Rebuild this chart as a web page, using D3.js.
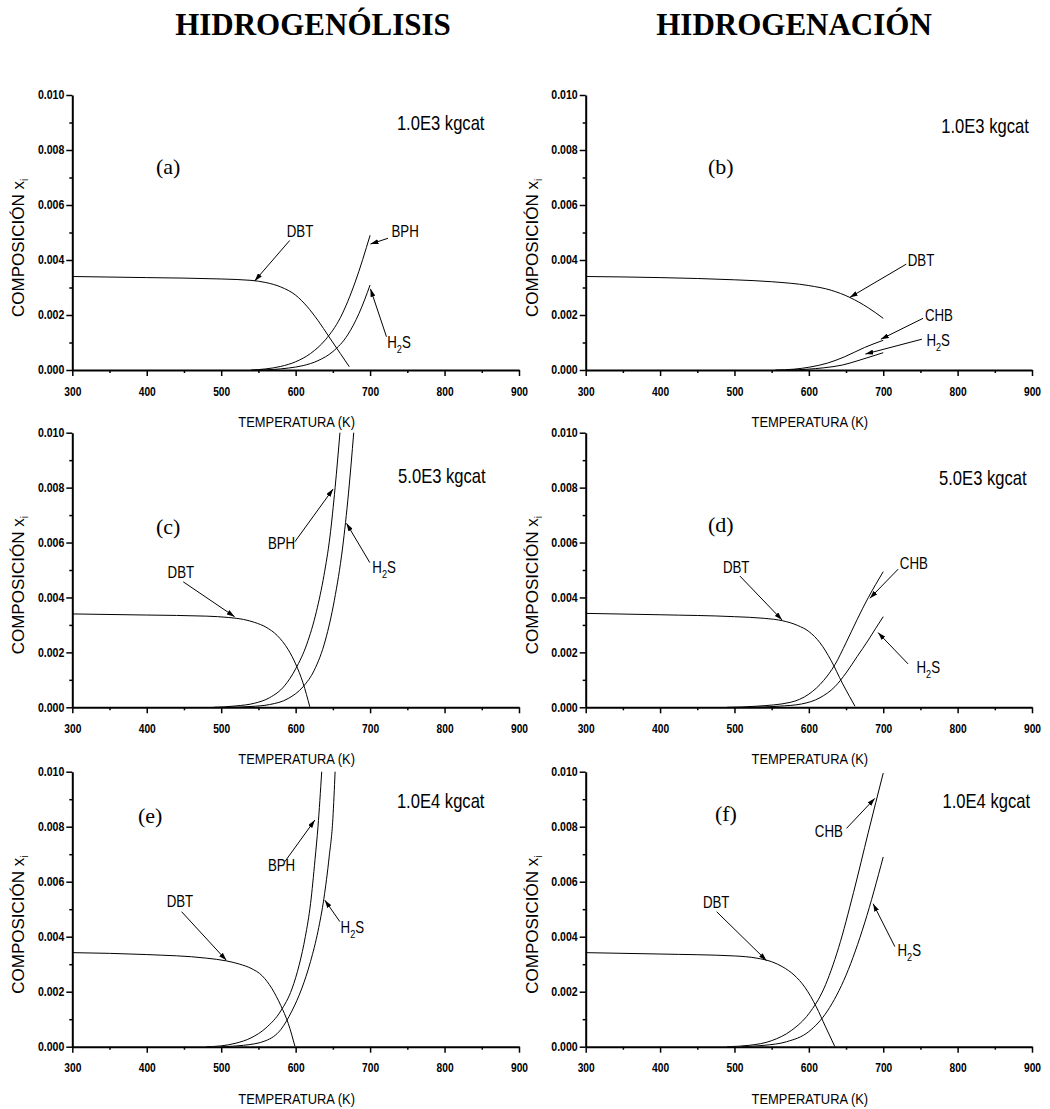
<!DOCTYPE html>
<html><head><meta charset="utf-8">
<script src="https://cdn.jsdelivr.net/npm/d3@7"></script>
<style>body{margin:0;background:#fff}</style>
</head><body>
<svg id="chart" width="1050" height="1109"></svg>
<script>
// ---------- data ----------
const xTicks = [300, 400, 500, 600, 700, 800, 900];
const xMinorTicks = [350, 450, 550, 650, 750, 850];
const yTicks = [0, 0.002, 0.004, 0.006, 0.008, 0.010];
const yMinorTicks = [0.001, 0.003, 0.005, 0.007, 0.009];
const columnTitles = ["HIDROGENÓLISIS", "HIDROGENACIÓN"];
const panelLetters = ["(a)", "(b)", "(c)", "(d)", "(e)", "(f)"];
const catalystLabels = ["1.0E3 kgcat", "1.0E3 kgcat", "5.0E3 kgcat", "5.0E3 kgcat", "1.0E4 kgcat", "1.0E4 kgcat"];
const xTitle = "TEMPERATURA (K)";
const yTitle = "COMPOSICIÓN x";

// (a) hidrogenólisis 1.0E3
const dbtA_T = [300, 400, 500, 540, 560, 580, 600, 615, 630, 645, 660, 672];
const dbtA_x = [0.00340, 0.00336, 0.00331, 0.00326, 0.00318, 0.00302, 0.00272, 0.00232, 0.00180, 0.00120, 0.00060, 0.00012];
const bphA_T = [540, 560, 580, 600, 620, 640, 660, 680, 700];
const bphA_x = [0.0, 0.00004, 0.00013, 0.0003, 0.0006, 0.0011, 0.0019, 0.0032, 0.0049];
const h2sA_T = [550, 570, 590, 610, 630, 650, 670, 685, 700];
const h2sA_x = [0.0, 0.00002, 0.00007, 0.00016, 0.00034, 0.00067, 0.00128, 0.00205, 0.00309];
// (b) hidrogenación 1.0E3
const dbtB_T = [300, 400, 500, 550, 600, 630, 655, 680, 700];
const dbtB_x = [0.00340, 0.00336, 0.00328, 0.00321, 0.00307, 0.00290, 0.00264, 0.00226, 0.00188];
const chbB_T = [555, 580, 600, 625, 648, 675, 700];
const chbB_x = [0.0, 0.00003, 0.0001, 0.00025, 0.00048, 0.00082, 0.00108];
const h2sB_T = [575, 620, 645, 666, 685, 700];
const h2sB_x = [0.0, 0.00008, 0.00018, 0.00034, 0.0005, 0.00063];
// (c) hidrogenólisis 5.0E3
const dbtC_T = [300, 400, 480, 510, 530, 545, 560, 575, 590, 600, 610, 619];
const dbtC_x = [0.00340, 0.00336, 0.00332, 0.00327, 0.00320, 0.00309, 0.00292, 0.00262, 0.00210, 0.00158, 0.00088, 0.00002];
const bphC_T = [490, 520, 545, 565, 585, 600, 615, 628, 638, 646, 653, 659.5];
const bphC_x = [0.0, 0.00005, 0.00015, 0.00035, 0.00078, 0.0014, 0.0023, 0.0035, 0.0048, 0.0062, 0.0080, 0.0100];
const h2sC_T = [510, 540, 565, 590, 610, 625, 640, 652, 663, 671, 678];
const h2sC_x = [0.0, 0.00003, 0.0001, 0.00032, 0.00075, 0.00135, 0.00245, 0.0039, 0.0058, 0.0078, 0.0100];
// (d) hidrogenación 5.0E3
const dbtD_T = [300, 400, 500, 540, 565, 585, 600, 615, 630, 645, 655, 662];
const dbtD_x = [0.00342, 0.00337, 0.0033, 0.00324, 0.00315, 0.00298, 0.00276, 0.00235, 0.00170, 0.00088, 0.00038, 0.00004];
const chbD_T = [490, 530, 575, 600, 620, 635, 650, 665, 680, 690, 700];
const chbD_x = [0.0, 0.00004, 0.00018, 0.00048, 0.00098, 0.00155, 0.00235, 0.0032, 0.0040, 0.00448, 0.00494];
const h2sD_T = [520, 560, 590, 615, 635, 650, 665, 680, 690, 700];
const h2sD_x = [0.0, 0.00004, 0.00012, 0.00035, 0.00075, 0.00125, 0.00185, 0.00245, 0.00288, 0.0033];
// (e) hidrogenólisis 1.0E4
const dbtE_T = [300, 400, 480, 507, 525, 540, 555, 568, 580, 590, 599];
const dbtE_x = [0.00342, 0.00335, 0.00322, 0.00312, 0.00300, 0.00285, 0.00258, 0.00212, 0.0015, 0.00085, 0.00002];
const bphE_T = [480, 500, 520, 540, 560, 580, 595, 605, 613, 620, 626, 630, 635];
const bphE_x = [0.0, 0.00003, 0.00013, 0.00032, 0.00068, 0.0013, 0.0021, 0.0030, 0.0040, 0.0052, 0.0068, 0.0080, 0.0100];
const h2sE_T = [500, 530, 560, 580, 595, 608, 620, 630, 638, 645, 650, 653];
const h2sE_x = [0.0, 0.00005, 0.00022, 0.00062, 0.0013, 0.0021, 0.0031, 0.0042, 0.0054, 0.0069, 0.0083, 0.0100];
// (f) hidrogenación 1.0E4
const dbtF_T = [300, 400, 500, 530, 550, 565, 580, 595, 610, 622, 635];
const dbtF_x = [0.00342, 0.00337, 0.0033, 0.00322, 0.00309, 0.0029, 0.00261, 0.00215, 0.00145, 0.00075, 0.0];
const chbF_T = [490, 520, 550, 577, 600, 620, 640, 660, 680, 700];
const chbF_x = [0.0, 0.00005, 0.00022, 0.0006, 0.0012, 0.0021, 0.0036, 0.0056, 0.0078, 0.00995];
const h2sF_T = [510, 540, 570, 600, 625, 650, 675, 700];
const h2sF_x = [0.0, 0.00005, 0.00018, 0.00055, 0.0013, 0.0026, 0.0045, 0.0069];

// annotations: [label, labelT, labelX, arrowFromT, arrowFromX, arrowToT, arrowToX]
const annotA = [["DBT", 588, 0.00485, 592, 0.00471, 545, 0.00324],
                ["BPH", 728.7, 0.00485, 724, 0.00479, 700.5, 0.00458],
                ["H2S", 723, 0.00079, 722, 0.00121, 700.5, 0.00295]];
const annotB = [["DBT", 733, 0.00379, 731, 0.00385, 655, 0.00264],
                ["CHB", 756, 0.00178, 753.6, 0.00188, 696.8, 0.00112],
                ["H2S", 758, 0.00087, 752, 0.00112, 676, 0.00058]];
const annotC = [["DBT", 428, 0.0047, 449, 0.00457, 518, 0.00330],
                ["BPH", 562.7, 0.00575, 599, 0.00603, 650.3, 0.00795],
                ["H2S", 703, 0.00488, 699.6, 0.00527, 668.3, 0.0067]];
const annotD = [["DBT", 484.5, 0.00488, 507.3, 0.00478, 564, 0.00318],
                ["CHB", 722.3, 0.00503, 720, 0.00503, 682, 0.00397],
                ["H2S", 744.7, 0.00124, 733.4, 0.00158, 693, 0.00272]];
const annotE = [["DBT", 426.7, 0.00509, 446.8, 0.00491, 507, 0.00314],
                ["BPH", 562.7, 0.00639, 585.5, 0.00673, 625.8, 0.00824],
                ["H2S", 660.3, 0.00415, 659.3, 0.00455, 639.2, 0.00533]];
const annotF = [["DBT", 457.6, 0.00503, 476, 0.00491, 543.2, 0.00313],
                ["CHB", 608, 0.00764, 650.7, 0.00794, 688.7, 0.00903],
                ["H2S", 719.2, 0.0033, 715.6, 0.00364, 686.4, 0.0052]];

// ---------- layout ----------
const layout = [
  {x0: 72.3, x1: 519, y0: 95, y1: 370, letter: [412.3, 0.00713], cat: [736, 0.00873]},
  {x0: 585.7, x1: 1032, y0: 95, y1: 370, letter: [464.3, 0.00713], cat: [778, 0.00862]},
  {x0: 72.3, x1: 519, y0: 432.7, y1: 707.3, letter: [412.3, 0.00631], cat: [737.6, 0.00818]},
  {x0: 585.7, x1: 1032, y0: 432.7, y1: 707.3, letter: [464.3, 0.0064], cat: [775, 0.0081]},
  {x0: 72.3, x1: 519, y0: 771.7, y1: 1046.7, letter: [388.2, 0.00813], cat: [736, 0.00869]},
  {x0: 585.7, x1: 1032, y0: 771.7, y1: 1046.7, letter: [473.7, 0.00821], cat: [779.6, 0.00869]}
];
const seriesByPanel = [
  [[dbtA_T, dbtA_x], [bphA_T, bphA_x], [h2sA_T, h2sA_x]],
  [[dbtB_T, dbtB_x], [chbB_T, chbB_x], [h2sB_T, h2sB_x]],
  [[dbtC_T, dbtC_x], [bphC_T, bphC_x], [h2sC_T, h2sC_x]],
  [[dbtD_T, dbtD_x], [chbD_T, chbD_x], [h2sD_T, h2sD_x]],
  [[dbtE_T, dbtE_x], [bphE_T, bphE_x], [h2sE_T, h2sE_x]],
  [[dbtF_T, dbtF_x], [chbF_T, chbF_x], [h2sF_T, h2sF_x]]
];
const annotByPanel = [annotA, annotB, annotC, annotD, annotE, annotF];

const SANS = "'Liberation Sans', Arial, Helvetica, sans-serif";
const SERIF = "'Liberation Serif', 'Times New Roman', Times, serif";

const svg = d3.select("#chart");
svg.append("rect").attr("width", 1050).attr("height", 1109).attr("fill", "#fff");
const defs = svg.append("defs");
defs.append("marker").attr("id", "arr")
  .attr("viewBox", "0 0 8 5").attr("refX", 8).attr("refY", 2.5)
  .attr("markerWidth", 8).attr("markerHeight", 5)
  .attr("markerUnits", "userSpaceOnUse").attr("orient", "auto")
  .append("path").attr("d", "M0,0 L8,2.5 L0,5 z").attr("fill", "#000");

function squeeze(sel, k) {
  sel.each(function () {
    const w = this.getComputedTextLength();
    this.setAttribute("textLength", (w * k).toFixed(2));
    this.setAttribute("lengthAdjust", "spacingAndGlyphs");
  });
}

// column titles
svg.selectAll("text.coltitle").data(columnTitles).join("text")
  .attr("class", "coltitle")
  .attr("x", (d, i) => i === 0 ? 313 : 794).attr("y", 35)
  .attr("text-anchor", "middle")
  .style("font-family", SERIF).style("font-weight", "bold").style("font-size", "31px")
  .text(d => d);

layout.forEach((L, i) => {
  const x = d3.scaleLinear().domain([300, 900]).range([L.x0, L.x1]);
  const y = d3.scaleLinear().domain([0, 0.010]).range([L.y1, L.y0]);
  const g = svg.append("g");

  const cid = "clip" + i;
  defs.append("clipPath").attr("id", cid).append("rect")
    .attr("x", L.x0).attr("y", L.y0 - 1).attr("width", L.x1 - L.x0).attr("height", L.y1 - L.y0 + 1);

  const line = d3.line().x(d => x(d[0])).y(d => y(d[1])).curve(d3.curveMonotoneX);
  g.append("g").attr("clip-path", `url(#${cid})`)
    .selectAll("path").data(seriesByPanel[i]).join("path")
    .attr("d", s => line(s[0].map((t, j) => [t, s[1][j]])))
    .attr("fill", "none").attr("stroke", "#000").attr("stroke-width", 1);

  // axes
  const gx = g.append("g").attr("transform", `translate(0,${L.y1})`)
    .call(d3.axisBottom(x).tickValues(xTicks).tickSize(6).tickSizeOuter(0).tickPadding(11).tickFormat(d3.format("d")));
  const gxm = g.append("g").attr("transform", `translate(0,${L.y1})`)
    .call(d3.axisBottom(x).tickValues(xMinorTicks).tickSize(3).tickSizeOuter(0).tickFormat(""));
  gxm.select(".domain").remove();
  const gy = g.append("g").attr("transform", `translate(${L.x0},0)`)
    .call(d3.axisLeft(y).tickValues(yTicks).tickSize(6).tickSizeOuter(0).tickPadding(2).tickFormat(d3.format(".3f")));
  const gym = g.append("g").attr("transform", `translate(${L.x0},0)`)
    .call(d3.axisLeft(y).tickValues(yMinorTicks).tickSize(3).tickSizeOuter(0).tickFormat(""));
  gym.select(".domain").remove();
  [gx, gxm, gy, gym].forEach(a => {
    a.selectAll(".domain").attr("stroke", "#000").attr("stroke-width", 2);
    a.selectAll(".tick line").attr("stroke", "#000").attr("stroke-width", 1.5);
  });
  gx.selectAll(".tick text").attr("fill", "#000")
    .style("font-family", SANS).style("font-weight", "bold").style("font-size", "12px");
  gy.selectAll(".tick text").attr("fill", "#000")
    .style("font-family", SANS).style("font-weight", "bold").style("font-size", "12px");
  squeeze(gx.selectAll(".tick text"), 0.85);
  squeeze(gy.selectAll(".tick text"), 0.88);

  // axis titles
  const xt = g.append("text")
    .attr("x", (L.x0 + L.x1) / 2 + 1).attr("y", L.y1 + 57)
    .attr("text-anchor", "middle")
    .style("font-family", SANS).style("font-size", "15px").text(xTitle);
  squeeze(xt, 0.86);

  const yt = g.append("text")
    .attr("transform", `translate(${L.x0 - 48},${L.y1 - 53}) rotate(-90)`)
    .style("font-family", SANS).style("font-size", "17px");
  yt.append("tspan").text(yTitle);
  yt.append("tspan").attr("dy", 4).style("font-size", "10px").text("i");

  // panel letter
  g.append("text")
    .attr("x", x(L.letter[0])).attr("y", y(L.letter[1]))
    .style("font-family", SERIF).style("font-size", "22px").text(panelLetters[i]);

  // catalyst label
  g.append("text")
    .attr("transform", `translate(${x(L.cat[0])},${y(L.cat[1])}) scale(0.83,1)`)
    .style("font-family", SANS).style("font-size", "20px").text(catalystLabels[i]);

  // annotations
  annotByPanel[i].forEach(a => {
    const [lab, lt, lx, ft, fx, tt, tx] = a;
    g.append("line")
      .attr("x1", x(ft)).attr("y1", y(fx)).attr("x2", x(tt)).attr("y2", y(tx))
      .attr("stroke", "#000").attr("stroke-width", 1).attr("marker-end", "url(#arr)");
    const t = g.append("text")
      .attr("transform", `translate(${x(lt)},${y(lx)}) scale(0.83,1)`)
      .style("font-family", SANS).style("font-size", "16px");
    if (lab === "H2S") {
      t.append("tspan").text("H");
      t.append("tspan").attr("dy", 5).style("font-size", "11px").text("2");
      t.append("tspan").attr("dy", -5).text("S");
    } else {
      t.text(lab);
    }
  });
});
</script>
</body></html>
